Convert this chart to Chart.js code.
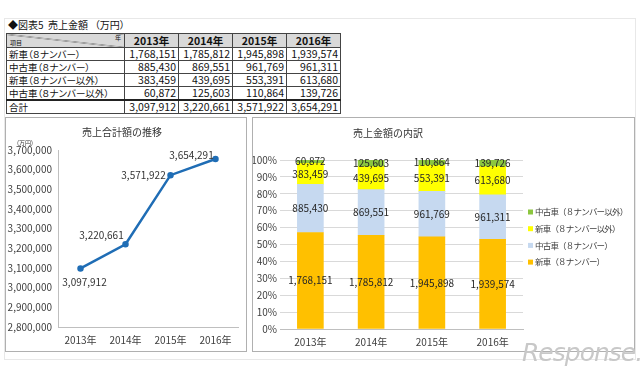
<!DOCTYPE html>
<html>
<head>
<meta charset="utf-8">
<script src="https://cdn.jsdelivr.net/npm/chart.js@4.4.0/dist/chart.umd.min.js"></script>
<style>
body { margin: 0; background: #fff; font-family: "Noto Sans CJK JP", sans-serif; }
#page { position: relative; width: 640px; height: 375px; overflow: hidden; }
.frame { position: absolute; left: 4px; top: 18px; width: 630px; height: 340px; border: 1px solid #e8e8e8; }
.caption { position: absolute; left: 8px; top: 18px; font-size: 10px; line-height: 14px; color: #111; font-feature-settings: "palt"; }
#salesTable { position: absolute; left: 6px; top: 33px; border-collapse: collapse; font-size: 10.5px; color: #111; }
#salesTable td, #salesTable th { border: 1px solid #444; padding: 0 2px; height: 12px; line-height: 12px; white-space: nowrap; }
#salesTable th { background: #d9d9d9; font-weight: bold; width: 49px; text-align: center; height: 13px; }
#salesTable td.name { width: 113px; text-align: left; font-size: 9.5px; font-feature-settings: "palt"; }
#salesTable td.num { text-align: right; }
#salesTable tr.total td { border-top: 2px solid #222; }
#salesTable th.corner { position: relative; width: 113px;
  background: linear-gradient(to top right, #d9d9d9 calc(50% - 0.6px), #555 50%, #d9d9d9 calc(50% + 0.6px)); }
.corner span { position: absolute; font-size: 6px; font-weight: normal; line-height: 6px; }
.panel { position: absolute; top: 117px; height: 233px; border: 1px solid #b0b0b0; }
canvas { position: absolute; }
.logo { position: absolute; left: 522px; top: 338px; font-size: 25px; font-style: italic; color: #c8c8c8; letter-spacing: -1px; font-family: "DejaVu Sans", sans-serif; }
</style>
</head>
<body>
<div id="page">
  <div class="frame"></div>
  <div class="caption">◆図表5&nbsp; 売上金額&nbsp;&nbsp;&nbsp;（万円）</div>
  <table id="salesTable"></table>

  <div class="panel" style="left:5px;width:240px;"></div>
  <canvas id="totalChart" width="240" height="233" style="left:6px;top:118px;"></canvas>

  <div class="panel" style="left:252px;width:381px;"></div>
  <canvas id="breakdownChart" width="381" height="233" style="left:253px;top:118px;"></canvas>

  <div class="logo">Response.</div>
</div>

<script>
// data (万円)
const years = ["2013年", "2014年", "2015年", "2016年"];
const seriesNames = ["新車（８ナンバー）", "中古車（８ナンバー）", "新車（８ナンバー以外）", "中古車（８ナンバー以外）"];
const newCar8 = [1768151, 1785812, 1945898, 1939574];
const usedCar8 = [885430, 869551, 961769, 961311];
const newCarOther = [383459, 439695, 553391, 613680];
const usedCarOther = [60872, 125603, 110864, 139726];
const totals = [3097912, 3220661, 3571922, 3654291];
const totalAxis = { min: 2800000, max: 3700000, step: 100000 };
const seriesColors = ["#ffc000", "#c6d9f0", "#ffff00", "#8cc63f"];

const fmt = v => v.toLocaleString("en-US");

// table
const table = document.getElementById("salesTable");
let html = '<tr><th class="corner"><span style="left:3px;bottom:1px;">項目</span><span style="right:3px;top:1px;">年</span></th>';
years.forEach(y => { html += "<th>" + y + "</th>"; });
html += "</tr>";
[newCar8, usedCar8, newCarOther, usedCarOther].forEach((arr, i) => {
    html += '<tr><td class="name">' + seriesNames[i] + "</td>";
    arr.forEach(v => { html += '<td class="num">' + fmt(v) + "</td>"; });
    html += "</tr>";
});
html += '<tr class="total"><td class="name">合計</td>';
totals.forEach(v => { html += '<td class="num">' + fmt(v) + "</td>"; });
html += "</tr>";
table.innerHTML = html;

Chart.defaults.font.family = '"Noto Sans CJK JP", sans-serif';
Chart.defaults.color = "#404040";

// line chart labels, offsets relative to each point
const lineLabelOffsets = [[4, 14], [-24, -9], [-27, 0], [-24, -4]];
const lineLabels = {
    id: "lineLabels",
    afterDatasetsDraw(chart) {
        const ctx = chart.ctx;
        const meta = chart.getDatasetMeta(0);
        ctx.save();
        ctx.font = '10px "Noto Sans CJK JP"';
        ctx.fillStyle = "#333";
        ctx.textAlign = "center";
        ctx.textBaseline = "middle";
        meta.data.forEach((pt, i) => {
            ctx.fillText(fmt(totals[i]), pt.x + lineLabelOffsets[i][0], pt.y + lineLabelOffsets[i][1]);
        });
        // unit above the axis
        ctx.font = '6px "Noto Sans CJK JP"';
        ctx.textAlign = "left";
        ctx.fillText("(万円)", 11, 25);
        ctx.restore();
    }
};

new Chart(document.getElementById("totalChart"), {
    type: "line",
    data: {
        labels: years,
        datasets: [{
            data: totals,
            borderColor: "#1f6db5",
            backgroundColor: "#1f6db5",
            borderWidth: 2.5,
            pointRadius: 2,
            tension: 0
        }]
    },
    options: {
        responsive: false,
        animation: false,
        layout: { padding: { right: 8, left: 0 } },
        plugins: {
            legend: { display: false },
            tooltip: { enabled: false },
            title: {
                display: true,
                text: "売上合計額の推移",
                font: { size: 10, weight: "normal" },
                color: "#333",
                padding: { top: 8, bottom: 12 }
            }
        },
        scales: {
            x: {
                offset: true,
                grid: { display: false, drawTicks: false },
                border: { color: "#bfbfbf" },
                ticks: { font: { size: 10 }, padding: 7, maxRotation: 0 },
                afterFit: s => { s.height = 24; }
            },
            y: {
                min: totalAxis.min,
                max: totalAxis.max,
                grid: { display: false, drawTicks: false },
                border: { color: "#bfbfbf" },
                ticks: { stepSize: totalAxis.step, font: { size: 10 }, padding: 6, callback: v => fmt(v) },
                afterFit: s => { s.width = 52; }
            }
        }
    },
    plugins: [lineLabels]
});

// 100% stacked bars
const seriesValues = [newCar8, usedCar8, newCarOther, usedCarOther];
const barLabels = {
    id: "barLabels",
    afterDatasetsDraw(chart) {
        const ctx = chart.ctx;
        ctx.save();
        ctx.font = '10px "Noto Sans CJK JP"';
        ctx.fillStyle = "#262626";
        ctx.textAlign = "center";
        ctx.textBaseline = "middle";
        chart.data.datasets.forEach((ds, d) => {
            chart.getDatasetMeta(d).data.forEach((bar, i) => {
                ctx.fillText(fmt(seriesValues[d][i]), bar.x, (bar.y + bar.base) / 2);
            });
        });
        ctx.restore();
    }
};

// legend on the right, top item = last dataset
const sideLegend = {
    id: "sideLegend",
    afterDraw(chart) {
        const ctx = chart.ctx;
        const x = chart.chartArea.right + 5;
        const n = chart.data.datasets.length;
        ctx.save();
        ctx.font = '8.5px "Noto Sans CJK JP"';
        ctx.letterSpacing = "-0.8px";
        ctx.textBaseline = "middle";
        ctx.fillStyle = "#404040";
        for (let k = 0; k < n; k++) {
            const ds = chart.data.datasets[n - 1 - k];
            const y = 94 + k * 16.7;
            ctx.fillStyle = ds.backgroundColor;
            ctx.fillRect(x, y - 2.5, 5, 5);
            ctx.fillStyle = "#404040";
            ctx.fillText(ds.label, x + 7, y);
        }
        ctx.restore();
    }
};

new Chart(document.getElementById("breakdownChart"), {
    type: "bar",
    data: {
        labels: years,
        datasets: seriesValues.map((arr, d) => ({
            label: seriesNames[d],
            data: arr.map((v, i) => v / totals[i] * 100),
            backgroundColor: seriesColors[d],
            barThickness: 26
        }))
    },
    options: {
        responsive: false,
        animation: false,
        layout: { padding: { right: 111 } },
        plugins: {
            tooltip: { enabled: false },
            legend: { display: false },
            title: {
                display: true,
                text: "売上金額の内訳",
                font: { size: 10, weight: "normal" },
                color: "#333",
                padding: { top: 9, bottom: 21 }
            }
        },
        scales: {
            x: {
                stacked: true,
                grid: { display: false, drawTicks: false },
                border: { color: "#bfbfbf" },
                ticks: { font: { size: 10 }, padding: 7 },
                afterFit: s => { s.height = 22; }
            },
            y: {
                stacked: true,
                min: 0,
                max: 100,
                grid: { color: "#d9d9d9", drawTicks: false },
                border: { display: false },
                ticks: { stepSize: 10, font: { size: 10 }, padding: 3, callback: v => v + "%" },
                afterFit: s => { s.width = 27; }
            }
        }
    },
    plugins: [barLabels, sideLegend]
});
</script>
</body>
</html>
